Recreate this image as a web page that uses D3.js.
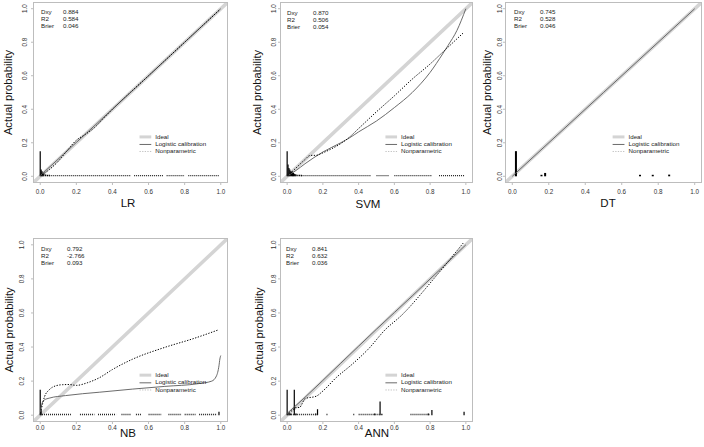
<!DOCTYPE html>
<html><head><meta charset="utf-8">
<script src="https://cdn.jsdelivr.net/npm/d3@7"></script>
<style>body{margin:0;background:#fff} svg{display:block} text{font-family:"Liberation Sans",Arial,sans-serif}</style>
</head><body><svg id="c" width="704" height="447"></svg>
<script>
const models = ["LR","SVM","DT","NB","ANN"];
const statLabels = ["Dxy","R2","Brier"];
const dxyValues = ["0.884","0.870","0.745","0.792","0.841"];
const r2Values = ["0.584","0.506","0.528","-2.766","0.632"];
const brierValues = ["0.046","0.054","0.046","0.093","0.036"];
const tickValues = [0,0.2,0.4,0.6,0.8,1.0];
const legendLabels = ["Ideal","Logistic calibration","Nonparametric"];

// calibration curves [predicted, actual]
const logisticLR = [[0,0.004],[0.2,0.202],[0.5,0.5],[0.8,0.8],[1,1]];
const nonparLR = [[0.01,0.01],[0.05,0.04],[0.1,0.09],[0.15,0.155],[0.2,0.215],[0.25,0.25],[0.3,0.29],[0.35,0.345],[0.4,0.4],[0.6,0.6],[0.8,0.8],[0.99,0.99]];
const logisticSVM = [[0.005,0.005],[0.05,0.035],[0.1,0.075],[0.2,0.145],[0.3,0.2],[0.35,0.23],[0.4,0.265],[0.5,0.33],[0.6,0.41],[0.7,0.5],[0.8,0.62],[0.87,0.73],[0.9,0.78],[0.95,0.87],[1.0,1.0]];
const nonparSVM = [[0.005,0.005],[0.05,0.05],[0.1,0.1],[0.13,0.125],[0.16,0.125],[0.2,0.14],[0.25,0.165],[0.3,0.195],[0.35,0.235],[0.4,0.285],[0.5,0.385],[0.6,0.48],[0.7,0.58],[0.8,0.67],[0.87,0.74],[0.9,0.77],[0.99,0.86]];
const logisticDT = [[0,0],[0.5,0.5],[1,1]];
const nonparDT = [];
const logisticNB = [[0.001,0.02],[0.01,0.07],[0.024,0.09],[0.05,0.1],[0.14,0.115],[0.33,0.135],[0.51,0.153],[0.69,0.169],[0.875,0.185],[0.95,0.2],[0.976,0.23],[0.99,0.29],[0.995,0.33],[1.0,0.35]];
const nonparNB = [[0.005,0.03],[0.024,0.109],[0.05,0.149],[0.088,0.173],[0.125,0.179],[0.16,0.18],[0.2,0.175],[0.26,0.19],[0.326,0.219],[0.4,0.268],[0.51,0.328],[0.69,0.398],[0.85,0.45],[0.985,0.5]];
const logisticANN = [[0,0.01],[0.1,0.105],[0.3,0.305],[0.5,0.505],[0.7,0.7],[1,1]];
const nonparANN = [[0.01,0.01],[0.03,0.03],[0.05,0.045],[0.07,0.045],[0.08,0.06],[0.1,0.097],[0.164,0.112],[0.2,0.142],[0.274,0.22],[0.365,0.3],[0.456,0.39],[0.547,0.5],[0.64,0.586],[0.82,0.8],[0.985,1.01]];

// spike histograms [predicted, height] and low-count runs [from, to]
const spikesLR = [[0,0.15],[0.005,0.04],[0.01,0.03],[0.015,0.02],[0.02,0.015],[0.03,0.01],[0.04,0.008],[0.05,0.006]];
const rugLR = [[0.05,0.5],[0.52,0.68],[0.7,0.8],[0.82,0.99]];
const spikesSVM = [[0,0.15],[0.005,0.07],[0.01,0.05],[0.015,0.04],[0.02,0.03],[0.025,0.028],[0.03,0.022],[0.035,0.02],[0.04,0.015],[0.045,0.012],[0.05,0.01],[0.06,0.008],[0.07,0.006],[0.08,0.005]];
const rugSVM = [[0.08,0.47],[0.5,0.57],[0.6,0.81],[0.85,0.99]];
const spikesDT = [[0.02,0.15],[0.16,0.008],[0.18,0.02],[0.70,0.006],[0.77,0.006],[0.86,0.01]];
const rugDT = [];
const spikesNB = [[0,0.15],[0.005,0.03],[0.99,0.02]];
const rugNB = [[0.01,0.17],[0.22,0.3],[0.32,0.42],[0.45,0.5],[0.53,0.56],[0.6,0.67],[0.71,0.78],[0.8,0.86],[0.88,0.98]];
const spikesANN = [[0,0.15],[0.01,0.015],[0.02,0.01],[0.04,0.15],[0.05,0.01],[0.16,0.01],[0.17,0.035],[0.49,0.01],[0.52,0.08],[0.53,0.005],[0.79,0.01],[0.81,0.03],[0.99,0.02]];
const rugANN = [[0.0,0.17],[0.22,0.23],[0.37,0.38],[0.4,0.52],[0.69,0.8]];

const logistics = [logisticLR, logisticSVM, logisticDT, logisticNB, logisticANN];
const nonpars = [nonparLR, nonparSVM, nonparDT, nonparNB, nonparANN];
const spikes = [spikesLR, spikesSVM, spikesDT, spikesNB, spikesANN];
const rugs = [rugLR, rugSVM, rugDT, rugNB, rugANN];

// layout
const layout = [
  {x:33, y:2,   w:195, h:181, ylab:-24, ytick:-8,  xtick:9, xlab:21, xlabX:128, stx:8, stv:30, sty:10},
  {x:280,y:2,   w:193, h:181, ylab:-22, ytick:-6,  xtick:9, xlab:22, xlabX:368, stx:7, stv:33, sty:11},
  {x:505,y:2,   w:197, h:181, ylab:-17, ytick:-5,  xtick:9, xlab:21, xlabX:608, stx:9, stv:35, sty:10},
  {x:33, y:238, w:195, h:184, ylab:-23, ytick:-11, xtick:6, xlab:12, xlabX:128, stx:8, stv:34, sty:11},
  {x:280,y:238, w:193, h:184, ylab:-20, ytick:-6,  xtick:6, xlab:12, xlabX:377, stx:6, stv:32, sty:11}
];

const svg = d3.select("#c");
const defs = svg.append("defs");

models.forEach((m, i) => {
  const L = layout[i];
  const x = d3.scaleLinear().domain([-0.04, 1.04]).range([L.x, L.x + L.w]);
  const y = d3.scaleLinear().domain([-0.04, 1.04]).range([L.y + L.h, L.y]);
  const g = svg.append("g");
  defs.append("clipPath").attr("id", "clip" + i).append("rect")
    .attr("x", L.x).attr("y", L.y).attr("width", L.w).attr("height", L.h);
  const pg = g.append("g").attr("clip-path", `url(#clip${i})`);

  // ideal
  pg.append("line").attr("x1", x(-0.04)).attr("y1", y(-0.04)).attr("x2", x(1.04)).attr("y2", y(1.04))
    .attr("stroke", "#d4d4d4").attr("stroke-width", 3.5);

  // spikes
  pg.selectAll("line.sp").data(spikes[i]).enter().append("line")
    .attr("x1", d => x(d[0])).attr("x2", d => x(d[0]))
    .attr("y1", y(0)).attr("y2", d => Math.min(y(d[1]), y(0) - 1.5))
    .attr("stroke", "#000").attr("stroke-width", i === 2 ? 2 : 1.2);
  pg.selectAll("line.rg").data(rugs[i]).enter().append("line")
    .attr("x1", d => x(d[0])).attr("x2", d => x(d[1]))
    .attr("y1", y(0) - 0.7).attr("y2", y(0) - 0.7)
    .attr("stroke", "#222").attr("stroke-width", 1.3).attr("stroke-dasharray", "1,1");

  const line = d3.line().x(d => x(d[0])).y(d => y(d[1])).curve(d3.curveMonotoneX);
  pg.append("path").datum(logistics[i]).attr("d", line)
    .attr("fill", "none").attr("stroke", "#5a5a5a").attr("stroke-width", 0.9);
  if (nonpars[i].length) {
    pg.append("path").datum(nonpars[i]).attr("d", line)
      .attr("fill", "none").attr("stroke", "#000").attr("stroke-width", 1)
      .attr("stroke-dasharray", "1.3,1.5");
  }

  // box
  g.append("rect").attr("x", L.x + 0.5).attr("y", L.y + 0.5).attr("width", L.w - 1).attr("height", L.h - 1)
    .attr("fill", "none").attr("stroke", "#bdbdbd").attr("stroke-width", 1);

  // ticks
  g.selectAll("line.xt").data(tickValues).enter().append("line")
    .attr("x1", d => x(d)).attr("x2", d => x(d)).attr("y1", L.y + L.h).attr("y2", L.y + L.h + 2)
    .attr("stroke", "#bdbdbd");
  g.selectAll("line.yt").data(tickValues).enter().append("line")
    .attr("y1", d => y(d)).attr("y2", d => y(d)).attr("x1", L.x).attr("x2", L.x - 2)
    .attr("stroke", "#bdbdbd");
  g.selectAll("text.xt").data(tickValues).enter().append("text")
    .attr("x", d => x(d)).attr("y", L.y + L.h + L.xtick)
    .attr("text-anchor", "middle").attr("dominant-baseline", "middle")
    .attr("font-size", 6.3).attr("fill", "#333").text(d => d3.format(".1f")(d));
  g.selectAll("text.yt").data(tickValues).enter().append("text")
    .attr("transform", d => `translate(${L.x + L.ytick},${y(d)}) rotate(-90)`)
    .attr("text-anchor", "middle").attr("dominant-baseline", "middle")
    .attr("font-size", 6.3).attr("fill", "#333").text(d => d3.format(".1f")(d));

  // axis labels
  g.append("text").attr("x", L.xlabX).attr("y", L.y + L.h + L.xlab)
    .attr("text-anchor", "middle").attr("dominant-baseline", "middle")
    .attr("font-size", 11.5).attr("fill", "#111").text(m);
  g.append("text").attr("transform", `translate(${L.x + L.ylab},${L.y + L.h / 2}) rotate(-90)`)
    .attr("text-anchor", "middle").attr("dominant-baseline", "middle")
    .attr("font-size", 11.2).attr("fill", "#111").text("Actual probability");

  // stats
  const vals = [dxyValues[i], r2Values[i], brierValues[i]];
  statLabels.forEach((s, k) => {
    g.append("text").attr("x", L.x + L.stx).attr("y", L.y + L.sty + k * 7.3)
      .attr("dominant-baseline", "middle").attr("font-size", 6.2).attr("fill", "#222").text(s);
    g.append("text").attr("x", L.x + L.stv).attr("y", L.y + L.sty + k * 7.3)
      .attr("dominant-baseline", "middle").attr("font-size", 6.2).attr("fill", "#222").text(vals[k]);
  });

  // legend
  const ly = [0.235, 0.19, 0.148];
  const styles = [
    {stroke: "#d4d4d4", w: 3, dash: null},
    {stroke: "#5a5a5a", w: 0.9, dash: null},
    {stroke: "#bbb", w: 0.9, dash: "1.3,1.3"}
  ];
  legendLabels.forEach((t, k) => {
    g.append("line").attr("x1", x(0.55)).attr("x2", x(0.615)).attr("y1", y(ly[k])).attr("y2", y(ly[k]))
      .attr("stroke", styles[k].stroke).attr("stroke-width", styles[k].w)
      .attr("stroke-dasharray", styles[k].dash);
    g.append("text").attr("x", x(0.637)).attr("y", y(ly[k]))
      .attr("dominant-baseline", "middle").attr("font-size", 6.2).attr("fill", "#222").text(t);
  });
});
</script></body></html>
